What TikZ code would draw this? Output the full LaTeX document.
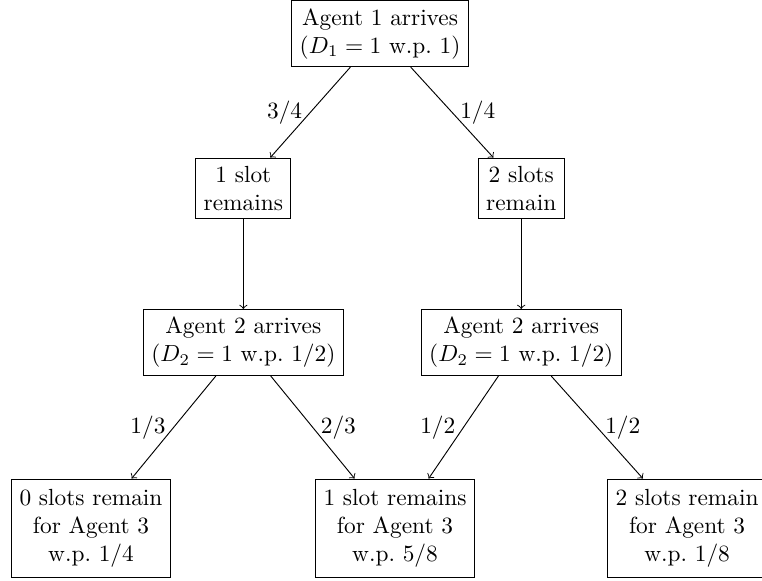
\documentclass[tikz,border=0pt]{standalone}
\begin{document}
\begin{tikzpicture}[x=1pt,y=1pt,
  box/.style={draw,align=center},
  leaf/.style={box,minimum height=42pt},
  arr/.style={->}]
\useasboundingbox (0,0) rectangle (326.6,-249);
\node[box] (a1) at (162.9,-14.4) {Agent 1 arrives\\$(D_1 = 1$ w.p.\ $1)$};
\node[box] (s1) at (104.3,-80.6) {1 slot\\remains};
\node[box] (s2) at (223.4,-80.6) {2 slots\\remain};
\node[box] (a2l) at (104.3,-146.8) {Agent 2 arrives\\$(D_2 = 1$ w.p.\ $1/2)$};
\node[box] (a2r) at (223.4,-146.8) {Agent 2 arrives\\$(D_2 = 1$ w.p.\ $1/2)$};
\node[leaf] (bl) at (39,-226.3) {0 slots remain\\for Agent 3\\w.p.\ $1/4$};
\node[leaf] (bm) at (169.3,-226.3) {1 slot remains\\for Agent 3\\w.p.\ $5/8$};
\node[leaf] (br) at (294.5,-226.3) {2 slots remain\\for Agent 3\\w.p.\ $1/8$};
\draw[arr] (a1) -- node[midway,left] {$3/4$} (s1);
\draw[arr] (a1) -- node[midway,right] {$1/4$} (s2);
\draw[arr] (s1) -- (a2l);
\draw[arr] (s2) -- (a2r);
\draw[arr] (a2l) -- node[midway,left] {$1/3$} (bl);
\draw[arr] (a2l) -- node[midway,right] {$2/3$} (bm);
\draw[arr] (a2r) -- node[midway,left] {$1/2$} (bm);
\draw[arr] (a2r) -- node[midway,right] {$1/2$} (br);
\end{tikzpicture}
\end{document}
